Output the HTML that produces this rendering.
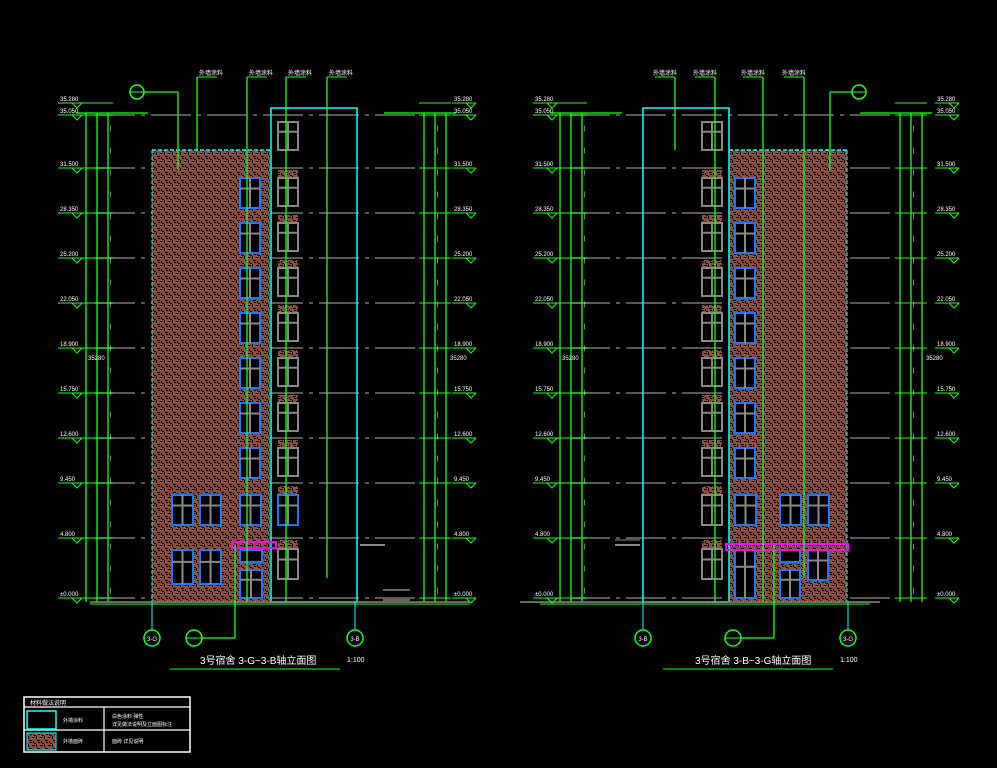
<!DOCTYPE html>
<html><head><meta charset="utf-8"><style>
html,body{margin:0;padding:0;background:#000;}
svg{display:block;font-family:"Liberation Sans","Noto Sans CJK SC",sans-serif;}
</style></head><body>
<svg id="s" width="997" height="768" viewBox="0 0 997 768" xmlns="http://www.w3.org/2000/svg">
<defs>
<pattern id="br" width="8" height="8" patternUnits="userSpaceOnUse">
<rect width="8" height="8" fill="#8a4d3e"/>
<rect x="0" y="1" width="3" height="1" fill="#000"/><rect x="4" y="0" width="1" height="3" fill="#000"/>
<rect x="5" y="4" width="3" height="1" fill="#000"/><rect x="1" y="5" width="1" height="2" fill="#000"/>
<rect x="6" y="6" width="2" height="1" fill="#000"/>
<rect x="2" y="7" width="2" height="1" fill="#000"/>
</pattern>
</defs>
<g id="g"></g>
</svg>
<script>
var g=document.getElementById('g'),h='';
function L(x1,y1,x2,y2,c,w,d){h+='<line x1="'+x1+'" y1="'+y1+'" x2="'+x2+'" y2="'+y2+'" stroke="'+c+'" stroke-width="'+(w||1)+'"'+(d?' stroke-dasharray="'+d+'"':'')+'/>';}
function R(x,y,w,hh,f,s,sw){h+='<rect x="'+x+'" y="'+y+'" width="'+w+'" height="'+hh+'" fill="'+(f||'none')+'"'+(s?' stroke="'+s+'" stroke-width="'+(sw||1)+'"':'')+'/>';}
function T(x,y,t,sz,c,a){h+='<text x="'+x+'" y="'+y+'" font-size="'+sz+'" fill="'+(c||'#fff')+'"'+(a?' text-anchor="'+a+'"':'')+'>'+t+'</text>';}
function C(x,y,r,c){h+='<circle cx="'+x+'" cy="'+y+'" r="'+r+'" fill="none" stroke="'+c+'" stroke-width="1.5"/>';}
function W(x,y,w,hh,b){R(x,y,w,hh,'#000',b?'#1e78ff':'#888',2);L(x+w/2,y,x+w/2,y+hh,'#888',2);L(x,y+hh*0.35,x+w,y+hh*0.35,'#888',2);}
var lv=[103,115,168,213,258,303,348,393,438,483,538,598];
var G='#1aff1a';
function draw(m){
 lv.slice(1).forEach(function(y){L(95+(m?475:0),y,420+(m?475:0),y,'#777',1.5,'40 6 4 6');});
 var hx=m?729:152, tx=m?643:271, tw=86;
 R(hx,150,118,452,'url(#br)');
 L(hx,150,hx+118,150,'#1ff',1.5,'4 2');
 L(m?hx+118:hx,150,m?hx+118:hx,602,'#1ff',1,'4 2');
 R(tx,108,tw,494,'none','#1ff',1.5);
 var twx=m?702:278, bwx=m?735:240;
 W(twx,122,20,28,false);
 for(var i=0;i<7;i++){var y=178+i*45;R(twx,y-8,20,8,'url(#br)');W(twx,y,20,28,false);W(bwx,y,20,30,true);}
 R(twx,486,20,9,'url(#br)');W(twx,495,20,30,!m);R(twx,540,20,9,'url(#br)');W(twx,549,20,30,false);
 var bx=m?[735,780,808]:[172,200,240];
 bx.forEach(function(x){W(x,495,21,30,true);});
 if(m){W(735,550,20,48,true);R(780,550,20,12,'#000','#1e78ff',2);W(780,570,20,28,true);W(808,550,20,30,true);}
 else{W(172,550,21,34,true);W(200,550,21,34,true);R(240,550,22,12,'#000','#1e78ff',2);W(240,570,22,28,true);}
 if(m)R(726,544,122,6,'none','#f0f',2);else R(232,542,44,6,'none','#f0f',2);
 L(m?520:90,602,m?880:470,602,'#888',1.5);
 L(m?540:90,604,m?870:470,604,G,1);
 var dl=m?[560,571,582]:[86,97,108], dr=m?[900,911,922]:[424,435,446];
 dl.concat(dr).forEach(function(x){L(x,113,x,602,G,1.3);});
 L(dl[0]-10,113,dl[2]+40,113,G,1.3);L(dr[0]-40,113,dr[2]+10,113,G,1.3);
 lv.forEach(function(y){[dl,dr].forEach(function(d){L(d[0]-5,y,d[2]+5,y,G,1);});});
 for(var y=130;y<600;y+=22){T(dl[2]+2,y,'|',6,'#fff');T(dr[1]+2,y,'|',6,'#fff');}
 var lx=m?533:58, rx=m?935:452;
 var lab=['35.280','35.050','31.500','28.350','25.200','22.050','18.900','15.750','12.600','9.450','4.800','±0.000'];
 lv.forEach(function(y,i){[lx,rx].forEach(function(x){L(x,y,x+24,y,G,1);h+='<path d="M'+(x+14)+' '+y+' l5 5 l5 -5" fill="none" stroke="'+G+'"/>';T(x+2,y-2,lab[i],6,'#fff');});});
 T(dl[0]+2,360,'35280',6,'#fff');T(dr[2]+4,360,'35280',6,'#fff');
 var ld=m?[675,715,763,804]:[197,247,286,327];
 ld.forEach(function(x,i){L(x,77,x,i==3?578:(i==0?150:602),G,1.3);L(x,77,x+(m?-20:20),77,G,1);T(x+(m?-22:2),75,'外墙涂料',6,'#fff');});
 var cx=m?859:137;C(cx,92,7,G);L(cx-7,92,cx+7,92,G,1);
 var lx2=m?830:178;L(cx+(m?-7:7),92,lx2,92,G,1.3);L(lx2,92,lx2,170,G,1.3);
 var ax=m?[643,848]:[152,355], al=m?['3-B','3-G']:['3-G','3-B'];
 ax.forEach(function(x,i){L(x,602,x,630,'#1ff',1);C(x,638,8,G);T(x,641,al[i],6,'#fff','middle');});
 var ix=m?733:194;C(ix,638,8,G);L(ix-8,638,ix+8,638,G,1);L(ix+8,638,m?774:235,638,G,1.3);L(m?774:235,638,m?774:235,545,G,1.3);
 T(m?695:200,664,m?'3号宿舍 3-B~3-G轴立面图':'3号宿舍 3-G~3-B轴立面图',10,'#fff');
 T(m?840:347,662,'1:100',7,'#fff');
 L(m?663:170,669,m?833:340,669,G,1);
}
draw(0);draw(1);
L(360,545,385,545,'#888',2);L(383,590,410,590,'#888',1.5);L(383,600,410,600,'#888',1.5);
L(615,545,640,545,'#888',2);L(615,540,640,540,'#888',1);
R(24,697,166,55,'none','#fff',1.5);L(24,707,190,707,'#fff',1.2);L(24,730,190,730,'#fff',1.2);L(104,707,104,752,'#fff',1.2);
T(30,705,'材料做法说明',6,'#fff');
R(27,711,29,18,'none','#1ff',1.5);R(27,733,29,17,'url(#br)','#1ff',1);
T(63,722,'外墙涂料',5,'#fff');T(63,743,'外墙面砖',5,'#fff');
T(112,718,'白色涂料 弹性',5,'#fff');T(112,726,'详见做法说明及立面图标注',5,'#fff');T(112,743,'面砖 详见说明',5,'#fff');
g.innerHTML=h;
</script>
</body></html>
